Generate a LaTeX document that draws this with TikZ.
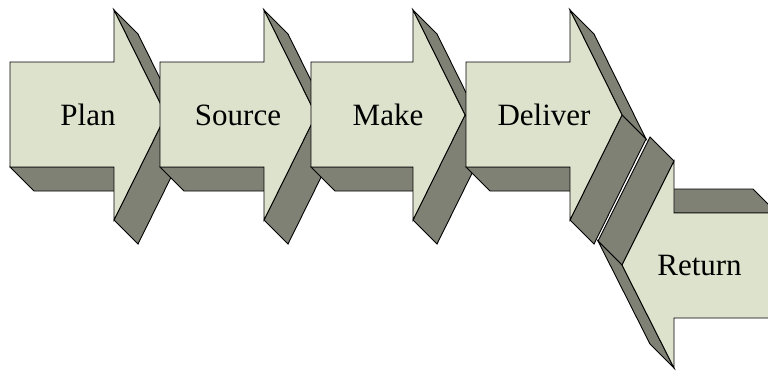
\documentclass[tikz,border=0pt]{standalone}
\usepackage{fontspec}
\setmainfont{Liberation Serif}
\definecolor{facelight}{RGB}{221,226,204}
\definecolor{facedark}{RGB}{128,129,117}
\tikzset{
  front/.style={fill=facelight,draw=black,line width=0.9pt,line join=miter},
  side/.style={fill=facedark,draw=black,line width=0.9pt,line join=miter},
  label/.style={font=\fontsize{31}{36}\selectfont,anchor=base,inner sep=0pt}
}
% forward arrow: #1 body left x, #2 head x
\newcommand{\fwdarrow}[2]{%
  \fill[side] (#1,167) -- (#2,167) -- ({#2+24},191) -- ({#1+24},191) -- cycle;
  \fill[side] (#2,10) -- ({#2+52},115) -- ({#2+76},139) -- ({#2+24},34) -- cycle;
  \fill[side] (#2,220) -- ({#2+52},115) -- ({#2+76},139) -- ({#2+24},244) -- cycle;
  \fill[front] (#1,62) -- (#2,62) -- (#2,10) -- ({#2+52},115) -- (#2,220) -- (#2,167) -- (#1,167) -- cycle;
}
\begin{document}
\begin{tikzpicture}[x=1pt,y=-1pt]
\useasboundingbox (0,0) rectangle (768,370);
\clip (0,0) rectangle (768,370);
\fwdarrow{10}{114}
\node[label] (plan) at (88,125) {Plan};
\fwdarrow{160}{264}
\node[label] (source) at (238,125) {Source};
\fwdarrow{311}{413}
\node[label] (make) at (388,125) {Make};
\fwdarrow{466}{570}
\node[label] (deliver) at (544,125) {Deliver};
% Return arrow (pointing left)
\fill[side] (674,213) -- (777,213) -- (753,189) -- (650,189) -- cycle;
\fill[side] (674,161) -- (622,265) -- (598,241) -- (650,137) -- cycle;
\fill[side] (622,265) -- (674,368) -- (650,344) -- (598,241) -- cycle;
\fill[front] (622,265) -- (674,161) -- (674,213) -- (777,213) -- (777,318) -- (674,318) -- (674,368) -- cycle;
\node[label] (return) at (699.5,275) {Return};
\end{tikzpicture}
\end{document}
